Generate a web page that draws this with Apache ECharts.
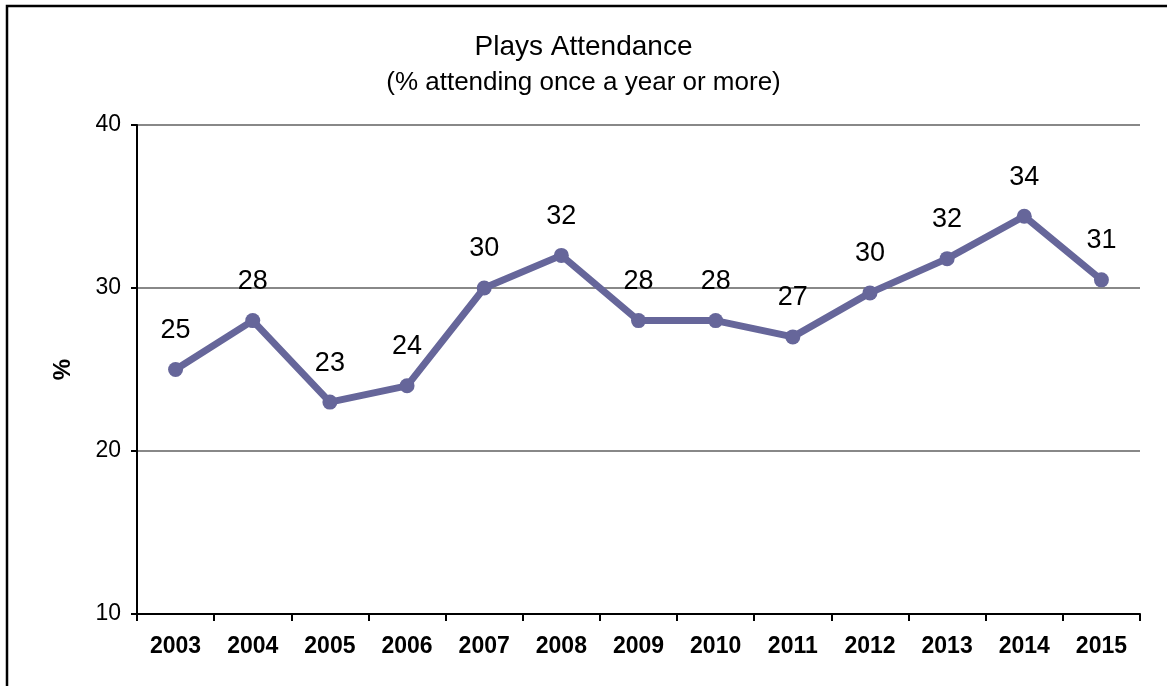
<!DOCTYPE html>
<html>
<head>
<meta charset="utf-8">
<script src="https://cdn.jsdelivr.net/npm/echarts@6/dist/echarts.min.js"></script>
<style>
html,body{margin:0;padding:0;background:#fff;}
#chart{width:1167px;height:686px;}
</style>
</head>
<body>
<div id="chart"></div>
<script>
const years = ['2003','2004','2005','2006','2007','2008','2009','2010','2011','2012','2013','2014','2015'];
const attendance = [25, 28, 23, 24, 30, 32, 28, 28, 27, 29.7, 31.8, 34.4, 30.5];
const yTicks = [10, 20, 30, 40];
const titleText = 'Plays Attendance';
const subtitleText = '(% attending once a year or more)';
const yAxisName = '%';

const chart = echarts.init(document.getElementById('chart'));
const font = '"Liberation Sans", "DejaVu Sans", sans-serif';
chart.setOption({
  animation: false,
  backgroundColor: '#fff',
  textStyle: { fontFamily: font },
  title: {
    text: titleText,
    subtext: subtitleText,
    left: 'center',
    top: 28,
    itemGap: 9,
    textStyle: { fontFamily: font, fontSize: 28, fontWeight: 'normal', color: '#000' },
    subtextStyle: { fontFamily: font, fontSize: 26, color: '#000' }
  },
  graphic: [{
    type: 'rect',
    shape: { x: 7, y: 6, width: 1180, height: 720 },
    style: { fill: 'none', stroke: '#000', lineWidth: 2.5 },
    silent: true
  }],
  grid: { left: 137, right: 27, top: 125, bottom: 72 },
  xAxis: {
    type: 'category',
    data: years,
    boundaryGap: true,
    axisLine: { lineStyle: { color: '#000', width: 2 } },
    axisTick: { show: true, alignWithLabel: false, length: 7, lineStyle: { color: '#000', width: 2 } },
    axisLabel: { color: '#000', fontSize: 23, fontWeight: 'bold', margin: 21, fontFamily: font },
    splitLine: { show: false }
  },
  yAxis: {
    type: 'value',
    min: yTicks[0],
    max: yTicks[yTicks.length - 1],
    interval: 10,
    name: yAxisName,
    nameLocation: 'middle',
    nameGap: 62,
    nameRotate: 90,
    nameTextStyle: { color: '#000', fontSize: 24, fontWeight: 'bold', fontFamily: font },
    axisLine: { show: true, lineStyle: { color: '#000', width: 2 } },
    axisTick: { show: true, length: 6, lineStyle: { color: '#000', width: 2 } },
    axisLabel: { color: '#000', fontSize: 23, margin: 16, fontFamily: font },
    splitLine: { show: true, lineStyle: { color: '#888', width: 2 } }
  },
  series: [{
    type: 'line',
    data: attendance,
    symbol: 'circle',
    symbolSize: 15,
    lineStyle: { color: '#66669a', width: 7 },
    itemStyle: { color: '#66669a' },
    label: {
      show: true,
      position: 'top',
      distance: 18,
      color: '#000',
      fontSize: 27,
      fontFamily: font,
      formatter: p => Math.round(p.value)
    }
  }]
});
</script>
</body>
</html>
